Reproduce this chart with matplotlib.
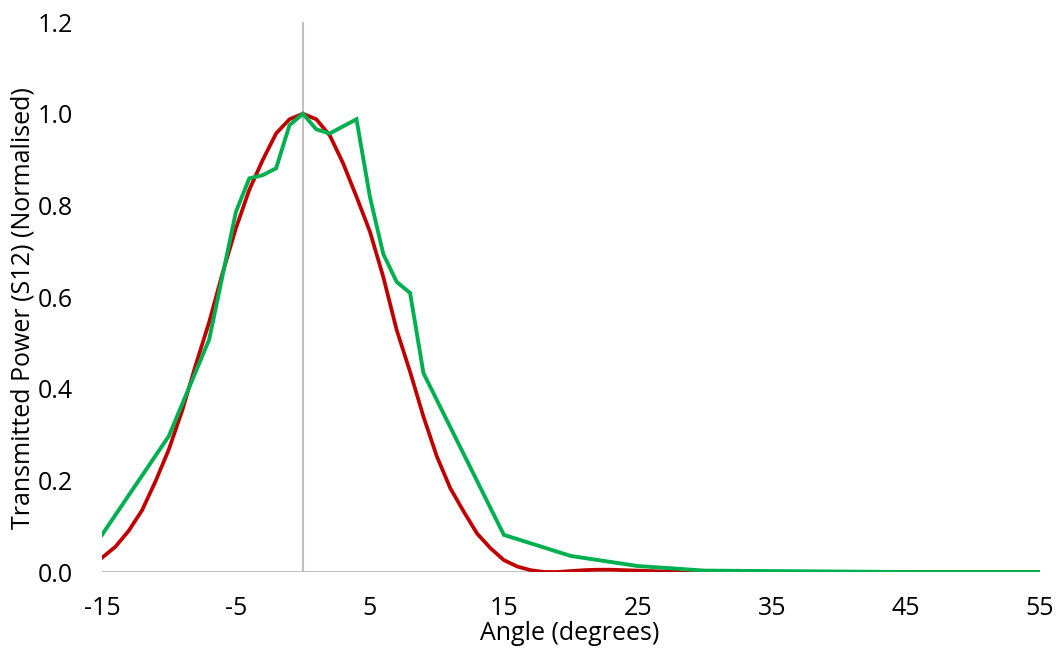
import matplotlib
matplotlib.use("Agg")
import matplotlib.pyplot as plt

# Simulated beam pattern, sampled every degree
angle_sim = list(range(-15, 56))
power_sim = [
    0.031, 0.055, 0.090, 0.135, 0.198, 0.268, 0.353, 0.452, 0.545, 0.652,
    0.750, 0.834, 0.899, 0.957, 0.988, 1.000, 0.988, 0.953, 0.892, 0.819,
    0.743, 0.644, 0.528, 0.437, 0.339, 0.252, 0.183, 0.132, 0.084, 0.052,
    0.026, 0.012, 0.004, 0.000, 0.000, 0.002, 0.004, 0.005, 0.005, 0.004,
    0.003, 0.002, 0.001, 0.001, 0.001, 0.000, 0.000, 0.000, 0.000, 0.000,
    0.000, 0.000, 0.000, 0.000, 0.000, 0.000, 0.000, 0.000, 0.000, 0.000,
    0.000, 0.000, 0.000, 0.000, 0.000, 0.000, 0.000, 0.000, 0.000, 0.000,
    0.000,
]

# Measured beam pattern
angle_meas = [-15, -10, -7, -5, -4, -3, -2, -1, 0, 1, 2, 4, 5, 6, 7, 8, 9,
              15, 20, 25, 30, 35, 40, 45, 50, 55]
power_meas = [0.081, 0.297, 0.507, 0.786, 0.859, 0.866, 0.881, 0.975, 1.000,
              0.966, 0.957, 0.988, 0.819, 0.694, 0.633, 0.609, 0.434,
              0.081, 0.035, 0.013, 0.003, 0.002, 0.001, 0.000, 0.000, 0.000]

x_ticks = [-15, -5, 5, 15, 25, 35, 45, 55]
y_ticks = [0.0, 0.2, 0.4, 0.6, 0.8, 1.0, 1.2]

plt.rcParams['font.family'] = ['Open Sans', 'DejaVu Sans']
FS = 18

fig = plt.figure(figsize=(10.62, 6.5), dpi=100)
ax = fig.add_axes([0.096, 0.12, 0.883, 0.846])

grey = '#bfbfbf'
ax.axvline(0, color=grey, lw=1.5, zorder=1)
ax.axhline(0, color=grey, lw=1.5, zorder=1)

ax.plot(angle_sim, power_sim, color='#C00000', lw=2.7, zorder=3,
        solid_joinstyle='round')
ax.plot(angle_meas, power_meas, color='#00B050', lw=2.8, zorder=4,
        solid_joinstyle='miter')

ax.set_xlim(-15, 55)
ax.set_ylim(0, 1.2)
ax.set_xticks(x_ticks)
ax.set_yticks(y_ticks)
ax.set_xticklabels([str(t) for t in x_ticks])
ax.set_yticklabels([f"{t:.1f}" for t in y_ticks])
ax.tick_params(axis='both', length=0, labelsize=FS, colors='black')
ax.tick_params(axis='x', pad=17)
ax.tick_params(axis='y', pad=21)

for s in ax.spines.values():
    s.set_visible(False)

fig.text(570 / 1062, 1 - 633 / 650, "Angle (degrees)", fontsize=FS,
         ha='center', va='center')
fig.text(23 / 1062, 1 - 308 / 650, "Transmitted Power (S12) (Normalised)",
         fontsize=FS, rotation=90, ha='center', va='center')

fig.savefig("out.png", dpi=100, facecolor='white')
